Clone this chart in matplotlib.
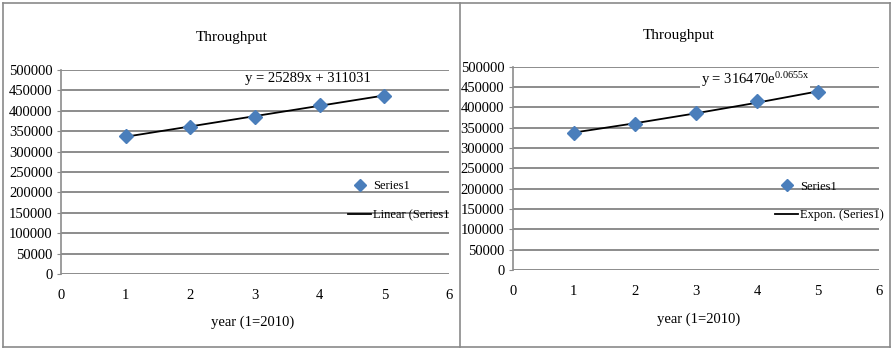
import numpy as np
import matplotlib
matplotlib.use("Agg")
from matplotlib import pyplot as plt
from matplotlib.lines import Line2D

plt.rcParams['font.family'] = ['Liberation Serif', 'DejaVu Serif']
plt.rcParams['mathtext.fontset'] = 'custom'
plt.rcParams['mathtext.rm'] = 'Liberation Serif'
plt.rcParams['mathtext.it'] = 'Liberation Serif:italic'

#Throughput per year (1=2010)
years = [1, 2, 3, 4, 5]
throughput = [338000, 360000, 385000, 415000, 437000]
yticks = [0, 50000, 100000, 150000, 200000, 250000, 300000, 350000, 400000, 450000, 500000]
xticks = [0, 1, 2, 3, 4, 5, 6]
lin_eq = 'y = 25289x + 311031'
exp_eq = 'y = 316470e$^{\\mathrm{0.0655x}}$'

blue = '#4a7ebb'
grid_col = '#8c8c8c'
fs = 10.5
leg_fs = 9

fig = plt.figure(figsize=(8.94, 3.51), dpi=100)
W, H = 894., 351.

def px_axes(x0, x1, ytop, ybot):
    return fig.add_axes([x0 / W, 1 - ybot / H, (x1 - x0) / W, (ybot - ytop) / H])

def setup(ax):
    ax.set_xlim(0, 6)
    ax.set_ylim(0, 500000)
    ax.set_yticks(yticks)
    ax.set_yticklabels([str(v) for v in yticks], fontsize=fs)
    ax.set_xticks(xticks)
    ax.set_xticklabels([str(v) for v in xticks], fontsize=fs)
    ax.grid(axis='y', color=grid_col, lw=1.4)
    ax.set_axisbelow(True)
    for s in ['top', 'right', 'bottom']:
        ax.spines[s].set_visible(False)
    ax.spines['left'].set_color(grid_col)
    ax.spines['left'].set_linewidth(1.2)
    ax.tick_params(axis='y', length=3, color=grid_col, pad=3)
    ax.tick_params(axis='x', length=0, pad=11)

xs = np.array(years, dtype=float)
ys = np.array(throughput, dtype=float)

h = [Line2D([], [], ls='none', marker='D', color=blue, ms=6.5),
     Line2D([], [], color='black', lw=1.3)]
leg_kw = dict(loc='upper left', frameon=False, fontsize=leg_fs,
              handlelength=1.85, handletextpad=0.15, labelspacing=1.35,
              borderpad=0, borderaxespad=0)

# left: linear trend
ax1 = px_axes(61, 449, 70, 274)
setup(ax1)
a, b = np.polyfit(xs, ys, 1)
ax1.plot(xs, a * xs + b, color='black', lw=1.3, zorder=2)
ax1.plot(xs, ys, 'D', color=blue, ms=7, zorder=3)
ax1.text(3.82, 478000, lin_eq, ha='center', va='center', fontsize=fs)
leg1 = ax1.legend(h, ['Series1', 'Linear (Series1)'],
                  bbox_to_anchor=(0.74, 0.46), **leg_kw)
for t in leg1.get_texts():
    t.set_clip_box(ax1.bbox)
    t.set_clip_on(True)
fig.text(232 / W, 1 - 37 / H, 'Throughput', ha='center', va='center', fontsize=11)
fig.text(253 / W, 1 - 322 / H, 'year (1=2010)', ha='center', va='center', fontsize=fs)

# right: exponential trend
ax2 = px_axes(512.7, 879, 66.7, 270)
setup(ax2)
k, c = np.polyfit(xs, np.log(ys), 1)
ax2.plot(xs, np.exp(c) * np.exp(k * xs), color='black', lw=1.3, zorder=2)
ax2.plot(xs, ys, 'D', color=blue, ms=7, zorder=3)
ax2.text(3.97, 469000, exp_eq, ha='center', va='center', fontsize=fs,
         bbox=dict(facecolor='white', lw=0, pad=0.5))
leg2 = ax2.legend(h, ['Series1', 'Expon. (Series1)'],
                  bbox_to_anchor=(0.716, 0.44), **leg_kw)
fig.text(679 / W, 1 - 35 / H, 'Throughput', ha='center', va='center', fontsize=11)
fig.text(699 / W, 1 - 319 / H, 'year (1=2010)', ha='center', va='center', fontsize=fs)

# outer frames
frame = '#8a8a8a'
for xx in [3, 460, 890]:
    fig.add_artist(Line2D([xx / W, xx / W], [1 - 3 / H, 1 - 347 / H], color=frame, lw=1.2))
for yy in [3, 347]:
    fig.add_artist(Line2D([3 / W, 890 / W], [1 - yy / H, 1 - yy / H], color=frame, lw=1.2))

fig.savefig('out.png', dpi=100)
